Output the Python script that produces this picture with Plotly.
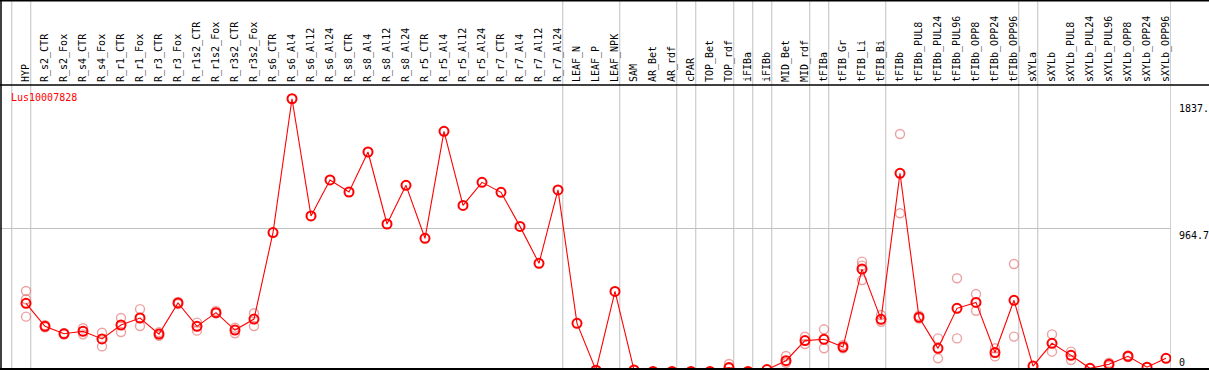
import plotly.graph_objects as go

categories = [
    "HYP", "R_s2_CTR", "R_s2_Fox", "R_s4_CTR", "R_s4_Fox", "R_r1_CTR", "R_r1_Fox",
    "R_r3_CTR", "R_r3_Fox", "R_r1s2_CTR", "R_r1s2_Fox", "R_r3s2_CTR", "R_r3s2_Fox",
    "R_s6_CTR", "R_s6_Al4", "R_s6_Al12", "R_s6_Al24", "R_s8_CTR", "R_s8_Al4",
    "R_s8_Al12", "R_s8_Al24", "R_r5_CTR", "R_r5_Al4", "R_r5_Al12", "R_r5_Al24",
    "R_r7_CTR", "R_r7_Al4", "R_r7_Al12", "R_r7_Al24", "LEAF_N", "LEAF_P", "LEAF_NPK",
    "SAM", "AR_Bet", "AR_rdf", "cPAR", "TOP_Bet", "TOP_rdf", "iFIBa", "iFIBb",
    "MID_Bet", "MID_rdf", "tFIBa", "tFIB_Gr", "tFIB_Li", "tFIB_Bi", "tFIBb",
    "tFIBb_PUL8", "tFIBb_PUL24", "tFIBb_PUL96", "tFIBb_OPP8", "tFIBb_OPP24",
    "tFIBb_OPP96", "sXYLa", "sXYLb", "sXYLb_PUL8", "sXYLb_PUL24", "sXYLb_PUL96",
    "sXYLb_OPP8", "sXYLb_OPP24", "sXYLb_OPP96",
]

means = [
    462, 307, 257, 274, 222, 316, 363, 255, 464, 307, 399, 282, 356,
    937, 1837, 1049, 1291, 1210, 1479, 995, 1255, 899, 1618, 1120, 1275,
    1208, 979, 731, 1224, 327, 12, 542,
    14, 4, 4, 4, 4, 30, 4, 16,
    76, 211, 220, 168, 692, 354, 1336,
    368, 159, 428, 468, 131, 482,
    40, 193, 112, 25, 52, 106, 32, 92,
]

replicates = [
    [545, 489, 372], [315, 300], [262, 253], [294, 253], [264, 172], [363, 269],
    [423, 309], [267, 244], [471, 457], [332, 278], [410, 395], [298, 260], [395, 309],
    [], [], [], [], [], [], [], [], [], [], [], [],
    [], [], [], [], [], [], [],
    [], [], [], [], [], [54, 25], [], [],
    [108, 62], [237, 188], [287, 160], [182, 160], [742, 715, 618], [383, 338], [1600, 1067],
    [379, 360], [226, 92], [630, 226], [524, 412], [160, 105], [726, 238],
    [], [253, 137], [137, 81], [], [62, 40], [112, 100], [], [],
]

gene_name = "Lus10007828"
# last category of each group (a separator is drawn right after it)
group_ends = ["HYP", "R_r7_Al24", "LEAF_NPK", "AR_rdf", "cPAR", "TOP_rdf", "iFIBa",
              "iFIBb", "MID_rdf", "tFIBa", "tFIB_Bi", "tFIBb_OPP96", "sXYLa", "sXYLb_OPP96"]

y_max = 1929.4
y_mid = 964.7
y_label_max = 1837
y_min = 20.2

MONO = "DejaVu Sans Mono"
W, H = 1209, 370
ML, MR, MT, MB = 10, 38, 85, 1
PW, PH = W - ML - MR, H - MT - MB

def px_x(p):
    return (p - ML) / PW

def px_y(p):
    return (H - MB - p) / PH

rx, ry = [], []
for c, reps in zip(categories, replicates):
    for v in reps:
        rx.append(c)
        ry.append(v)

fig = go.Figure()
fig.add_trace(go.Scatter(
    x=rx, y=ry, mode="markers",
    marker=dict(symbol="circle-open", size=9, color="rgba(228,110,110,0.65)",
                line=dict(width=1.4)),
    hoverinfo="skip",
))
fig.add_trace(go.Scatter(
    x=categories, y=means, mode="lines+markers",
    line=dict(color="#ff0000", width=1.1),
    marker=dict(symbol="circle-open", size=9, color="#ff0000", line=dict(width=2)),
    hoverinfo="skip",
))

shapes = []
sep_positions = [-0.75] + [categories.index(n) + 0.25 for n in group_ends]
for xs in sep_positions:
    shapes.append(dict(type="line", xref="x", yref="paper", x0=xs, x1=xs,
                       y0=0, y1=px_y(0), line=dict(color="#c0c0c0", width=1), layer="below"))
shapes.append(dict(type="line", xref="paper", yref="y", x0=px_x(0), x1=1.0,
                   y0=y_mid, y1=y_mid, line=dict(color="#c0c0c0", width=1), layer="below"))
# frame lines
shapes.append(dict(type="line", xref="paper", yref="paper", x0=px_x(0), x1=px_x(W),
                   y0=1, y1=1, line=dict(color="black", width=1.5)))
shapes.append(dict(type="line", xref="paper", yref="paper", x0=px_x(0), x1=px_x(W),
                   y0=px_y(0.75), y1=px_y(0.75), line=dict(color="black", width=1.5)))
shapes.append(dict(type="line", xref="paper", yref="paper", x0=px_x(0), x1=px_x(W),
                   y0=0, y1=0, line=dict(color="black", width=2)))
shapes.append(dict(type="line", xref="paper", yref="paper", x0=px_x(1), x1=px_x(1),
                   y0=0, y1=px_y(0), line=dict(color="black", width=1.5)))

annotations = [
    dict(text=gene_name, xref="paper", yref="y", x=px_x(9), y=y_max, xanchor="left",
         yanchor="top", yshift=-5, showarrow=False, font=dict(family=MONO, size=10, color="#ff0000")),
    dict(text=f"{y_label_max}.", xref="paper", yref="y", x=px_x(1177), y=y_label_max,
         xanchor="left", yanchor="top", yshift=-2, showarrow=False,
         font=dict(family=MONO, size=10, color="black")),
    dict(text=f"{y_mid}", xref="paper", yref="y", x=px_x(1177), y=y_mid,
         xanchor="left", yanchor="top", yshift=1, showarrow=False,
         font=dict(family=MONO, size=10, color="black")),
    dict(text="0", xref="paper", yref="paper", x=px_x(1177), y=0,
         xanchor="left", yanchor="bottom", yshift=-1, showarrow=False,
         font=dict(family=MONO, size=10, color="black")),
]

fig.update_layout(
    width=W, height=H,
    margin=dict(l=ML, r=MR, t=MT, b=MB, pad=0),
    paper_bgcolor="white", plot_bgcolor="white",
    showlegend=False, hovermode=False,
    shapes=shapes, annotations=annotations,
    xaxis=dict(type="category", categoryorder="array", categoryarray=categories,
               range=[-0.842, 60.263], side="top", tickangle=-90,
               tickfont=dict(family=MONO, size=10, color="black"),
               showgrid=False, zeroline=False, showline=False, ticks="",
               ticklabelstandoff=2, fixedrange=True),
    yaxis=dict(range=[y_min, y_max], showgrid=False, zeroline=False,
               showticklabels=False, showline=False, ticks="", fixedrange=True),
)

fig.write_html(
    "out.html",
    config={"displayModeBar": False, "staticPlot": True},
    post_script="document.body.style.margin='0';document.body.style.overflow='hidden';",
)
